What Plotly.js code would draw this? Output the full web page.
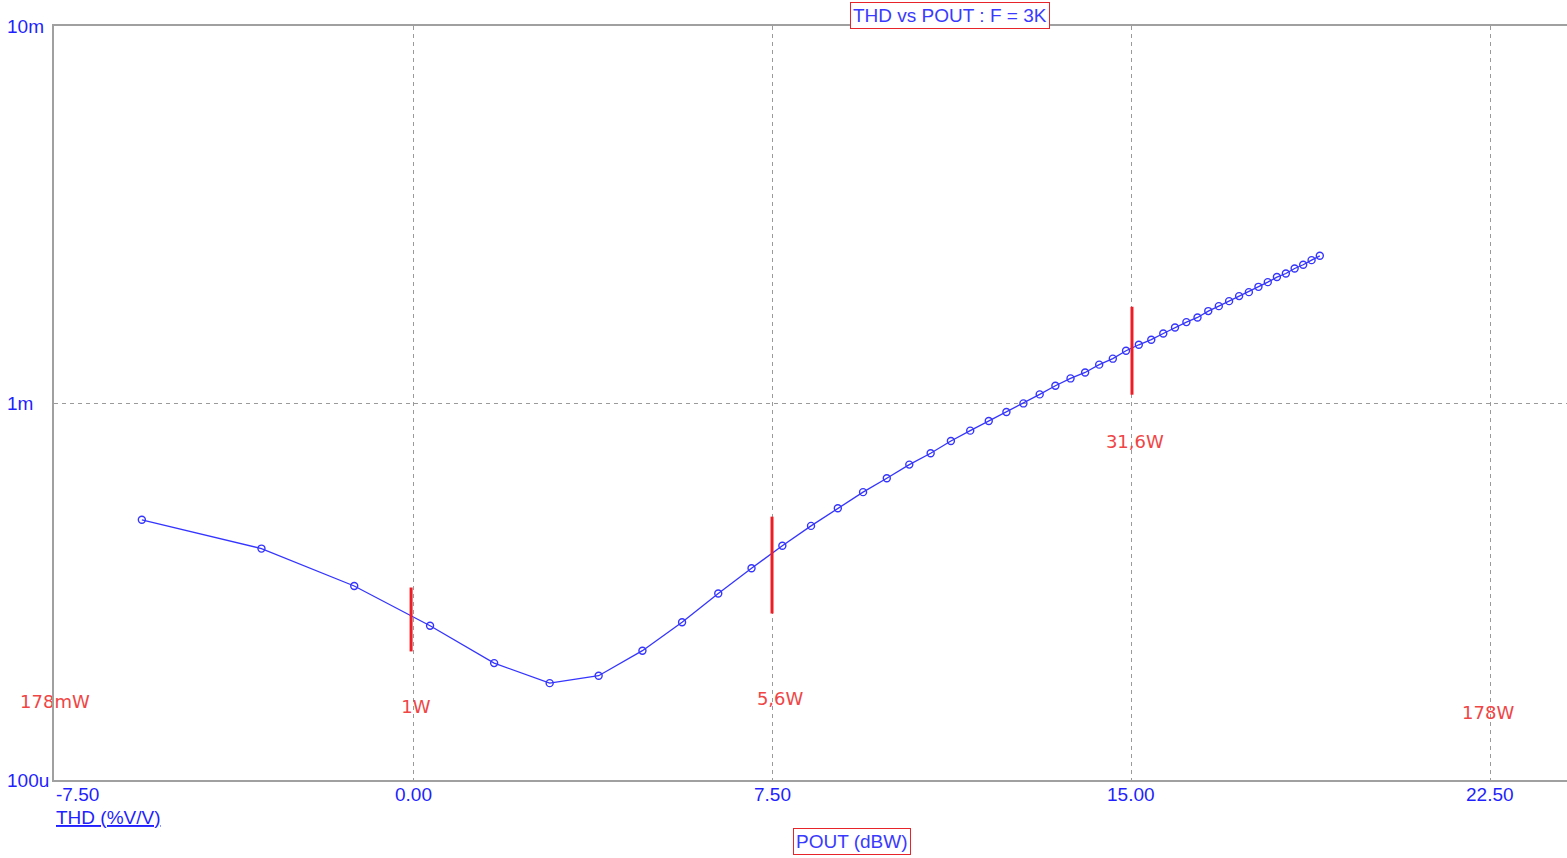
<!DOCTYPE html>
<html>
<head>
<meta charset="utf-8">
<script src="https://cdn.plot.ly/plotly-3.0.1.min.js"></script>
<style>
html,body{margin:0;padding:0;background:#fff;}
#chart{width:1567px;height:858px;}
</style>
</head>
<body>
<div id="chart"></div>
<script>
// POUT (dBW) for each simulated point
const xPout = [-5.665,-3.166,-1.228,0.356,1.695,2.855,3.878,4.793,5.621,6.377,
  7.072,7.716,8.315,8.875,9.402,9.898,10.368,10.814,11.237,11.641,
  12.028,12.397,12.752,13.092,13.420,13.736,14.041,14.335,14.620,14.896,
  15.163,15.423,15.674,15.919,16.157,16.389,16.614,16.834,17.049,17.258,
  17.462,17.662,17.857,18.048,18.235,18.418,18.597,18.772,18.944];
// THD (%V/V)
const yThd = [4.90e-4,4.11e-4,3.27e-4,2.565e-4,2.042e-4,1.807e-4,1.891e-4,2.203e-4,2.622e-4,3.125e-4,
  3.645e-4,4.18e-4,4.721e-4,5.256e-4,5.802e-4,6.313e-4,6.864e-4,7.355e-4,7.931e-4,8.446e-4,
  8.96e-4,9.467e-4,9.975e-4,1.054e-3,1.111e-3,1.162e-3,1.205e-3,1.264e-3,1.311e-3,1.376e-3,
  1.427e-3,1.472e-3,1.529e-3,1.586e-3,1.639e-3,1.686e-3,1.753e-3,1.807e-3,1.863e-3,1.921e-3,
  1.968e-3,2.033e-3,2.092e-3,2.158e-3,2.205e-3,2.274e-3,2.326e-3,2.393e-3,2.457e-3];

// red cursor markers
const cursorX = [-0.04, 7.5, 15.02];
const cursorLow = [2.193e-4, 2.764e-4, 1.052e-3];
const cursorHigh = [3.24e-4, 4.995e-4, 1.800e-3];

// red power labels
const powerLabels = ['178mW', '1W', '5,6W', '31,6W', '178W'];
const powerLabelX = [-7.48, 0.06, 7.67, 15.08, 22.46];
const powerLabelY = [1.597e-4, 1.549e-4, 1.626e-4, 7.80e-4, 1.493e-4];

// axis ticks
const xTickVals = [-7.5, 0, 7.5, 15, 22.5];
const xTickText = ['-7.50', '0.00', '7.50', '15.00', '22.50'];
const yTickVals = [1e-4, 1e-3, 1e-2];
const yTickText = ['100u', '1m', '10m'];

const titleText = 'THD vs POUT : F = 3K';
const xTitleText = 'POUT (dBW)';
const yTitleText = 'THD (%V/V)';

const BLUE = '#1f1fff';
const FONT = 'Liberation Sans, Arial, sans-serif';

const cx = [], cy = [];
cursorX.forEach((x, i) => { cx.push(x, x, null); cy.push(cursorLow[i], cursorHigh[i], null); });

const traces = [
  {
    x: xPout, y: yThd, type: 'scatter', mode: 'lines+markers',
    line: {color: '#3535ff', width: 1.3},
    marker: {symbol: 'circle-open', size: 7, color: '#3535ff', line: {width: 1.4, color: '#3535ff'}},
    hoverinfo: 'x+y'
  },
  {
    x: cx, y: cy, type: 'scatter', mode: 'lines',
    line: {color: '#ee1c24', width: 3}, hoverinfo: 'skip'
  },
  {
    x: powerLabelX, y: powerLabelY, type: 'scatter', mode: 'text',
    text: powerLabels, textposition: 'middle center', cliponaxis: false,
    textfont: {family: 'DejaVu Sans, sans-serif', size: 18, color: '#f04545'},
    hoverinfo: 'skip'
  }
];

const annotations = [];
// y tick labels, left aligned at the page edge
yTickVals.forEach((v, i) => {
  annotations.push({
    xref: 'paper', x: 0, xshift: -49, xanchor: 'left',
    yref: 'y', y: Math.log10(v), yanchor: 'middle',
    text: yTickText[i], showarrow: false,
    font: {family: FONT, size: 19, color: BLUE}
  });
});
// x tick labels (first one sits inside the plot, left aligned)
xTickVals.forEach((v, i) => {
  annotations.push({
    xref: 'x', x: v, xanchor: i === 0 ? 'left' : 'center',
    yref: 'paper', y: 0, yanchor: 'top', yshift: -2,
    text: xTickText[i], showarrow: false,
    font: {family: FONT, size: 19, color: BLUE}
  });
});
// title with red frame
annotations.push({
  xref: 'paper', x: 0.5925, xanchor: 'center',
  yref: 'paper', y: 1, yanchor: 'middle', yshift: 11,
  text: titleText, showarrow: false,
  font: {family: FONT, size: 19, color: '#3a3aff'},
  bordercolor: '#e8242b', borderwidth: 1, borderpad: 2, bgcolor: '#ffffff'
});
// x axis title with red frame
annotations.push({
  xref: 'paper', x: 0.5274, xanchor: 'center',
  yref: 'paper', y: 0, yanchor: 'middle', yshift: -61,
  text: xTitleText, showarrow: false,
  font: {family: FONT, size: 19, color: '#3a3aff'},
  bordercolor: '#e8242b', borderwidth: 1, borderpad: 2
});
// y axis title, underlined
annotations.push({
  xref: 'paper', x: 0, xanchor: 'left',
  yref: 'paper', y: 0, yanchor: 'middle', yshift: -37,
  text: '<u>' + yTitleText + '</u>', showarrow: false,
  font: {family: FONT, size: 19, color: BLUE}
});

const layout = {
  width: 1567, height: 858,
  margin: {l: 54, r: 0, t: 26, b: 78, pad: 0},
  paper_bgcolor: '#ffffff', plot_bgcolor: '#ffffff',
  showlegend: false,
  xaxis: {
    range: [-7.5, 24.108], tickmode: 'array',
    tickvals: xTickVals.slice(1), showticklabels: false,
    showgrid: true, gridcolor: '#9a9a9a', gridwidth: 1, griddash: '4px,4px',
    zeroline: false, showline: true, linecolor: '#a0a0a0', linewidth: 1.5, mirror: true,
    ticks: ''
  },
  yaxis: {
    type: 'log', range: [-4, -2], tickmode: 'array', tickvals: yTickVals,
    showticklabels: false,
    showgrid: true, gridcolor: '#9a9a9a', gridwidth: 1, griddash: '4px,4px',
    zeroline: false, showline: true, linecolor: '#a0a0a0', linewidth: 1.5,
    ticks: ''
  },
  annotations: annotations
};

Plotly.newPlot('chart', traces, layout, {displayModeBar: false});
</script>
</body>
</html>
